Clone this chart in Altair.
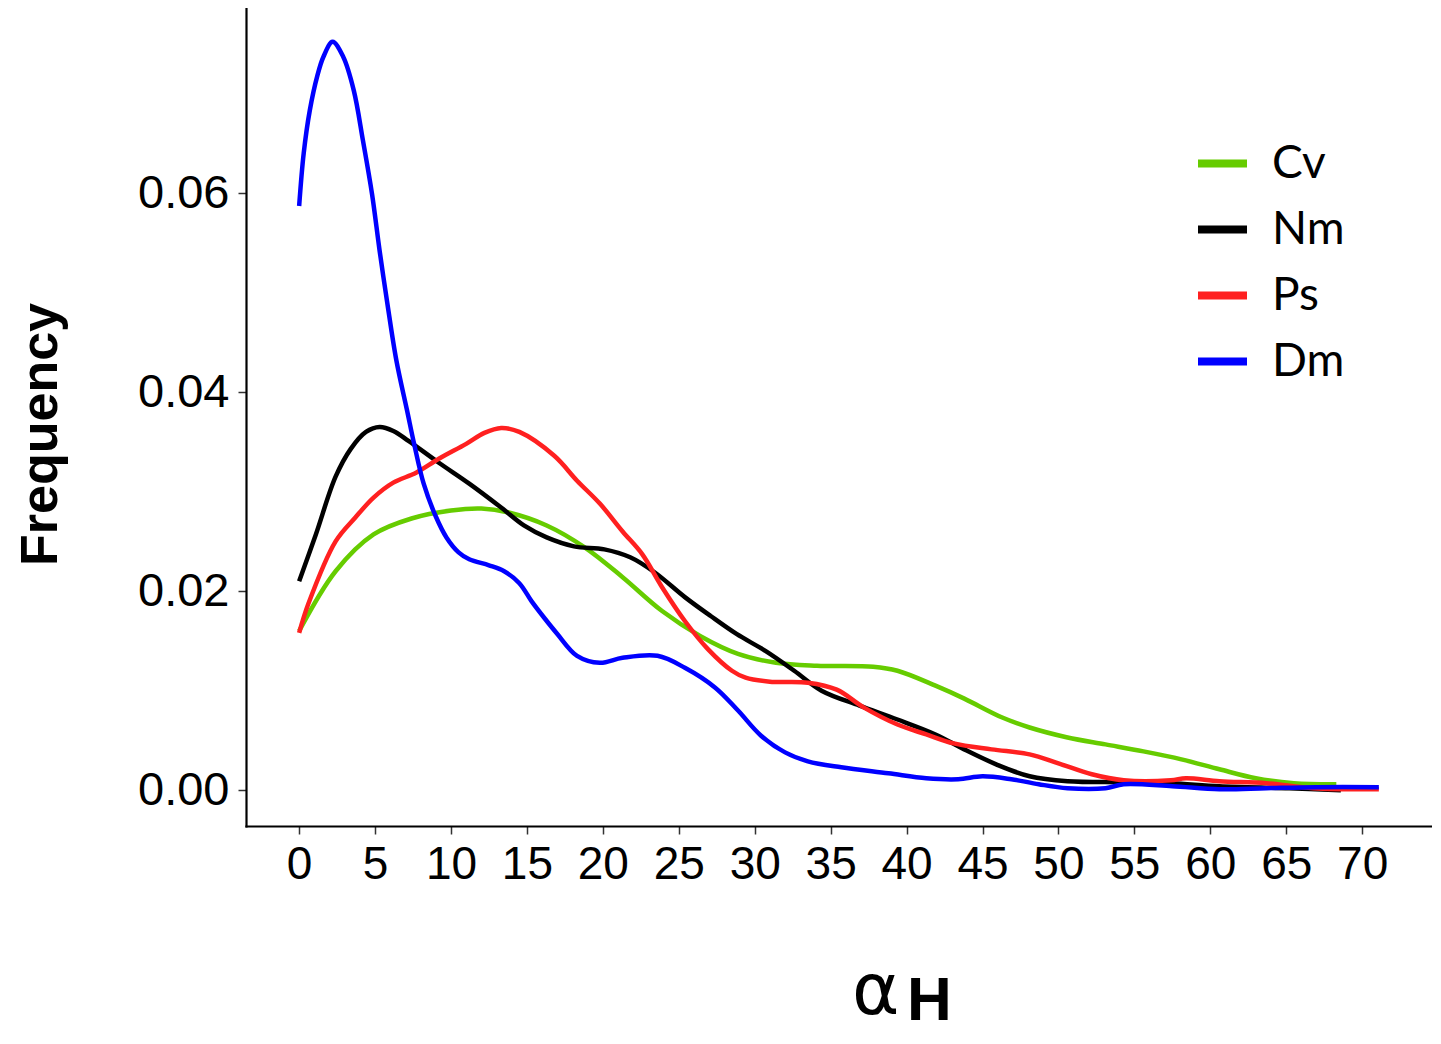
import altair as alt
import pandas as pd

series_names = ["Cv", "Nm", "Ps", "Dm"]
series_colors = ["#66CC00", "#000000", "#FF2020", "#0000FF"]

cv_x = [0, 2.4, 4.9, 7.4, 10, 12, 13.8, 16.3, 18.8, 21.3, 23.9, 26.4, 28.9, 31.4, 34.1,
        37.8, 39.4, 41.9, 43.8, 46.3, 48.1, 50.6, 53.1, 55.6, 58.1, 60.6, 63, 65.5, 68.3]
cv_y = [0.0160, 0.0220, 0.0257, 0.0273, 0.0281, 0.0283, 0.0279, 0.0266, 0.0244, 0.0214,
        0.0180, 0.0155, 0.0137, 0.0128, 0.0125, 0.0124, 0.0120, 0.0105, 0.0092, 0.0073,
        0.0063, 0.0053, 0.0046, 0.0039, 0.0031, 0.0021, 0.0012, 0.0007, 0.0006]

nm_x = [0, 1.1, 2.4, 3.4, 4.4, 5.3, 6.2, 7.2, 9.2, 11.2, 13.3, 14.8, 16.3, 18.1, 20.1, 21.8,
        23.4, 25.4, 27.1, 28.8, 30.7, 32.6, 34.4, 36.9, 39.4, 41.9, 43.8, 45.9, 48.1,
        50.6, 54.3, 57.4, 60.6, 65.2, 68.6]
nm_y = [0.0210, 0.0257, 0.0315, 0.0343, 0.0360, 0.0365, 0.0361, 0.0351, 0.0329, 0.0308,
        0.0284, 0.0266, 0.0254, 0.0245, 0.0242, 0.0234, 0.0219, 0.0194, 0.0175, 0.0157,
        0.0140, 0.0120, 0.0100, 0.0085, 0.0071, 0.0056, 0.0041, 0.0026, 0.0014, 0.0009,
        0.0008, 0.0007, 0.0004, 0.0002, 0.0000]

ps_x = [0, 0.6, 2.4, 3.7, 4.9, 6.2, 7.7, 9.2, 11, 12.2, 13.3, 14.5, 16.8, 18.3, 19.8,
        21.3, 22.6, 23.9, 25.4, 26.9, 28.5, 29.4, 31, 33.5, 35.4, 37.2, 39.4, 41.3, 43.1,
        45.6, 48.1, 50, 52.2, 54.3, 57.4, 58.4, 60.6, 63.7, 66.8, 71.1]
ps_y = [0.0158, 0.0187, 0.0250, 0.0274, 0.0294, 0.0309, 0.0319, 0.0333, 0.0348, 0.0359,
        0.0364, 0.0360, 0.0336, 0.0311, 0.0288, 0.0260, 0.0237, 0.0204, 0.0170, 0.0142,
        0.0120, 0.0113, 0.0109, 0.0108, 0.0101, 0.0083, 0.0066, 0.0056, 0.0047, 0.0041,
        0.0036, 0.0027, 0.0016, 0.0010, 0.0010, 0.0012, 0.0009, 0.0007, 0.0002, 0.0001]

dm_x = [0, 0.3, 0.7, 1.2, 1.6, 2.2, 2.9, 3.6, 4.2, 4.8, 5.3, 5.8, 6.4, 7.1, 7.6, 8.2,
        9.0, 9.7, 10.5, 11.2, 12.5, 13.5, 14.5, 15.3, 16.2, 17, 18.3, 19.8, 21.3, 23.6,
        25.4, 27.4, 28.9, 30.4, 32, 33.5, 35.7, 38.8, 41.3, 43.4, 45, 46.9, 48.7, 50.6,
        53.1, 54.3, 57.5, 60.6, 63.7, 67, 71.1]
dm_y = [0.0587, 0.0640, 0.0683, 0.0718, 0.0737, 0.0752, 0.0737, 0.0703, 0.0653, 0.0599,
        0.0542, 0.0490, 0.0432, 0.0382, 0.0346, 0.0308, 0.0275, 0.0254, 0.0239, 0.0232,
        0.0226, 0.0220, 0.0208, 0.0190, 0.0172, 0.0157, 0.0135, 0.0128, 0.0133, 0.0135,
        0.0123, 0.0103, 0.0080, 0.0055, 0.0038, 0.0029, 0.0023, 0.0017, 0.0012, 0.0011,
        0.0014, 0.0011, 0.0006, 0.0002, 0.0002, 0.0006, 0.0004, 0.0001, 0.0002, 0.0003,
        0.0003]

x_ticks = list(range(0, 75, 5))
y_ticks = [0.0, 0.02, 0.04, 0.06]
y_title = "Frequency"
x_title_parts = ["α", "H"]

rows = []
for name, xs, ys in zip(series_names, [cv_x, nm_x, ps_x, dm_x], [cv_y, nm_y, ps_y, dm_y]):
    for i, (a, b) in enumerate(zip(xs, ys)):
        rows.append({"series": name, "alpha": a, "freq": b, "idx": i})
df = pd.DataFrame(rows)

lines = alt.Chart(df).mark_line(strokeWidth=4.5, interpolate="catmull-rom").encode(
    x=alt.X("alpha:Q",
            scale=alt.Scale(domain=[-3.5, 74.6], nice=False, zero=False),
            axis=alt.Axis(values=x_ticks, title=None, grid=False, labelFont="Liberation Sans",
                          labelFontSize=46, labelColor="#000000", labelPadding=8,
                          tickSize=8, tickColor="#333333", tickWidth=1.5,
                          domainColor="#000000", domainWidth=2.2, labelFlush=False)),
    y=alt.Y("freq:Q",
            scale=alt.Scale(domain=[-0.0036, 0.0786], nice=False, zero=False),
            axis=alt.Axis(values=y_ticks, format=".2f", title=y_title, grid=False,
                          labelFont="Liberation Sans", labelFontSize=47, labelColor="#000000",
                          labelPadding=9, tickSize=8, tickColor="#333333", tickWidth=1.5,
                          domainColor="#000000", domainWidth=2.2,
                          titleFont="Liberation Sans", titleFontSize=52, titleFontWeight="bold",
                          titleColor="#000000", titleAngle=270, titleX=-190, titleY=426,
                          titleAlign="center", titleBaseline="alphabetic", labelFlush=False)),
    color=alt.Color("series:N",
                    scale=alt.Scale(domain=series_names, range=series_colors),
                    sort=series_names,
                    legend=alt.Legend(title=None, orient="none", legendX=948, legendY=127,
                                      symbolType="stroke", symbolStrokeWidth=8,
                                      symbolSize=2401, labelFont="Lato", labelFontSize=46,
                                      labelColor="#000000", labelOffset=21, rowPadding=14,
                                      padding=0)),
    detail="series:N",
    order="idx:Q",
)

alpha_df = pd.DataFrame({"t": [x_title_parts[0]]})
h_df = pd.DataFrame({"t": [x_title_parts[1]]})

alpha_text = alt.Chart(alpha_df).mark_text(
    font="DejaVu Sans", fontSize=72, align="left", baseline="alphabetic", color="#000000"
).encode(x=alt.value(606), y=alt.value(1006), text="t:N")

h_text = alt.Chart(h_df).mark_text(
    font="Liberation Sans", fontSize=62, fontWeight="bold", align="left",
    baseline="alphabetic", color="#000000"
).encode(x=alt.value(661), y=alt.value(1012), text="t:N")

chart = alt.layer(lines, alpha_text, h_text).properties(
    width=1186, height=818,
    autosize=alt.AutoSizeParams(type="none"),
    padding={"left": 238, "top": 0, "right": 0, "bottom": 208},
).configure_view(stroke=None).configure_axis(domainCap="square")

chart.save("out.html", embed_options={"renderer": "svg", "actions": False})
